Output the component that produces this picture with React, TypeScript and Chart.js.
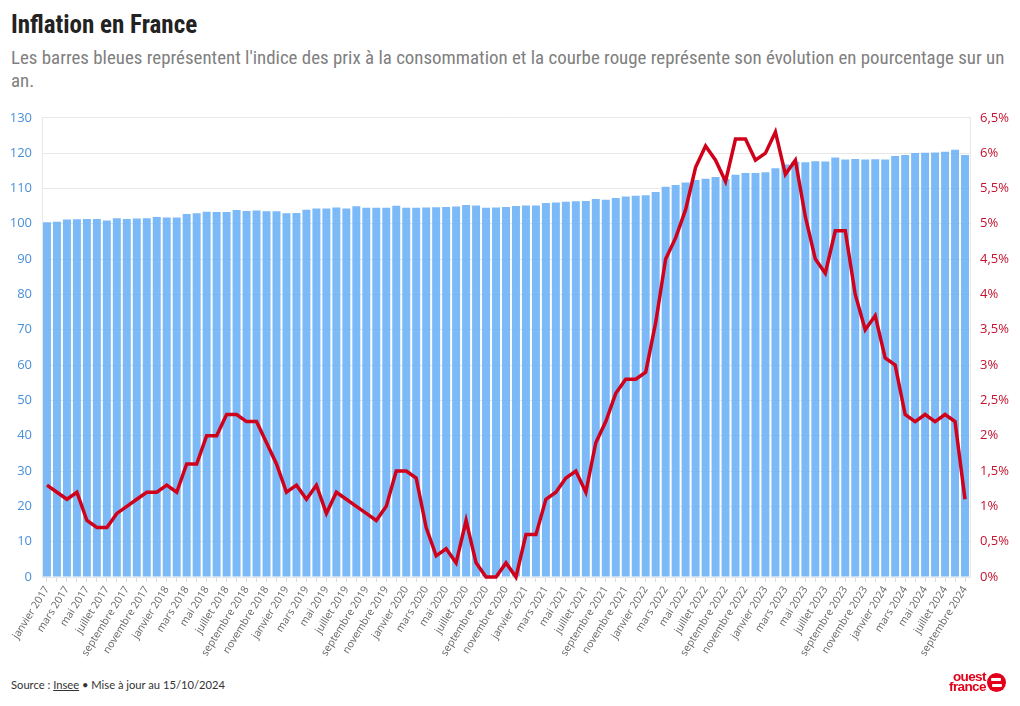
import React, { useEffect, useRef } from "react";
import { Chart, registerables } from "chart.js";

Chart.register(...registerables);

const MONTHS = ["janvier", "février", "mars", "avril", "mai", "juin", "juillet", "août", "septembre", "octobre", "novembre", "décembre"];
const YEARS = [2017, 2018, 2019, 2020, 2021, 2022, 2023, 2024];

const categories: string[] = [];
for (const y of YEARS) {
  for (const m of MONTHS) {
    categories.push(`${m} ${y}`);
  }
}
const labels = categories.slice(0, 93);

// Indice des prix à la consommation (base 2015 = 100)
const cpi2017 = [100.41, 100.59, 101.22, 101.31, 101.34, 101.37, 100.96, 101.53, 101.33, 101.47, 101.58, 101.89];
const cpi2018 = [101.76, 101.79, 102.79, 102.98, 103.4, 103.35, 103.32, 103.87, 103.6, 103.74, 103.52, 103.51];
const cpi2019 = [102.96, 103.06, 103.95, 104.33, 104.35, 104.61, 104.35, 104.95, 104.54, 104.57, 104.53, 105.1];
const cpi2020 = [104.53, 104.56, 104.61, 104.7, 104.74, 104.86, 105.29, 105.14, 104.55, 104.59, 104.76, 105.02];
const cpi2021 = [105.2, 105.2, 105.87, 106.0, 106.26, 106.36, 106.42, 107.04, 106.79, 107.26, 107.72, 107.96];
const cpi2022 = [108.1, 108.97, 110.45, 110.97, 111.65, 112.36, 112.71, 113.26, 112.68, 113.9, 114.35, 114.4];
const cpi2023 = [114.6, 115.75, 116.78, 117.53, 117.42, 117.67, 117.6, 118.78, 118.22, 118.36, 118.16, 118.28];
const cpi2024 = [118.23, 119.2, 119.46, 120.07, 120.13, 120.19, 120.38, 120.99, 119.5];

// Évolution sur un an (%)
const inf2017 = [1.3, 1.2, 1.1, 1.2, 0.8, 0.7, 0.7, 0.9, 1.0, 1.1, 1.2, 1.2];
const inf2018 = [1.3, 1.2, 1.6, 1.6, 2.0, 2.0, 2.3, 2.3, 2.2, 2.2, 1.9, 1.6];
const inf2019 = [1.2, 1.3, 1.1, 1.3, 0.9, 1.2, 1.1, 1.0, 0.9, 0.8, 1.0, 1.5];
const inf2020 = [1.5, 1.4, 0.7, 0.3, 0.4, 0.2, 0.8, 0.2, 0.0, 0.0, 0.2, 0.0];
const inf2021 = [0.6, 0.6, 1.1, 1.2, 1.4, 1.5, 1.2, 1.9, 2.2, 2.6, 2.8, 2.8];
const inf2022 = [2.9, 3.6, 4.5, 4.8, 5.2, 5.8, 6.1, 5.9, 5.6, 6.2, 6.2, 5.9];
const inf2023 = [6.0, 6.3, 5.7, 5.9, 5.1, 4.5, 4.3, 4.9, 4.9, 4.0, 3.5, 3.7];
const inf2024 = [3.1, 3.0, 2.3, 2.2, 2.3, 2.2, 2.3, 2.2, 1.1];

const cpi = [...cpi2017, ...cpi2018, ...cpi2019, ...cpi2020, ...cpi2021, ...cpi2022, ...cpi2023, ...cpi2024];
const inflation = [...inf2017, ...inf2018, ...inf2019, ...inf2020, ...inf2021, ...inf2022, ...inf2023, ...inf2024];

const BLUE_TICK = "#4a90d9";
const RED = "#d0021b";
const RED_TICK = "#c4122f";
const GRID = "#e8e8e8";

export default function App() {
  const ref = useRef<HTMLCanvasElement | null>(null);

  useEffect(() => {
    if (!ref.current) return;
    const chart = new Chart(ref.current, {
      type: "bar",
      data: {
        labels,
        datasets: [
          {
            type: "line",
            label: "Évolution sur un an",
            data: inflation,
            yAxisID: "y1",
            borderColor: RED,
            borderWidth: 3.5,
            pointRadius: 0,
            tension: 0,
            order: 0,
            borderJoinStyle: "miter",
            clip: 6,
          } as any,
          {
            type: "bar",
            label: "Indice des prix",
            data: cpi,
            yAxisID: "y",
            backgroundColor: "rgba(110,178,246,0.9)",
            barPercentage: 0.8,
            categoryPercentage: 1,
            order: 1,
          },
        ],
      },
      options: {
        responsive: false,
        animation: false,
        devicePixelRatio: 1,
        layout: { autoPadding: false, padding: { top: 15, left: 0, right: 0, bottom: 0 } },
        plugins: { legend: { display: false }, tooltip: { enabled: false } },
        scales: {
          x: {
            grid: { display: true, drawOnChartArea: false, drawTicks: true, tickLength: 5, color: "#dcdcdc", offset: false },
            border: { display: true, color: GRID },
            ticks: {
              autoSkip: false,
              maxRotation: 58,
              minRotation: 58,
              color: "#666",
              padding: 2,
              font: { family: "'Open Sans', sans-serif", size: 10.5 },
              callback: (_v: any, i: number) => (i % 2 === 0 ? labels[i] : ""),
            },
            afterFit: (s: any) => {
              s.height = 93;
            },
          },
          y: {
            position: "left",
            min: 0,
            max: 130,
            ticks: {
              stepSize: 10,
              color: BLUE_TICK,
              padding: 10,
              font: { family: "'Open Sans', sans-serif", size: 13 },
            },
            grid: { color: GRID, drawTicks: false },
            border: { display: true, color: GRID },
            afterFit: (s: any) => {
              s.width = 42;
            },
          },
          y1: {
            position: "right",
            min: 0,
            max: 6.5,
            ticks: {
              stepSize: 0.5,
              color: RED_TICK,
              padding: 10,
              font: { family: "'Open Sans', sans-serif", size: 13 },
              callback: (v: any) => `${String(Math.round(Number(v) * 10) / 10).replace(".", ",")}%`,
            },
            grid: { display: false, drawTicks: false },
            border: { display: true, color: GRID },
            afterFit: (s: any) => {
              s.width = 50;
            },
          },
        },
      },
    });
    return () => chart.destroy();
  }, []);

  return (
    <div style={{ position: "absolute", left: 0, top: 0, width: 1020, height: 706, background: "#fff", overflow: "hidden" }}>
      <div
        style={{
          position: "absolute",
          left: 11,
          top: 9,
          fontFamily: "'Roboto Condensed', 'Liberation Sans Narrow', 'DejaVu Sans Condensed', sans-serif",
          fontWeight: 700,
          fontSize: 25,
          color: "#222",
          lineHeight: "32px",
        }}
      >
        Inflation en France
      </div>
      <div
        style={{
          position: "absolute",
          left: 11,
          top: 46,
          width: 1005,
          fontFamily: "'Roboto Condensed', 'Liberation Sans Narrow', 'DejaVu Sans Condensed', sans-serif",
          fontSize: 18.9,
          color: "#808080",
          lineHeight: "23px",
          whiteSpace: "nowrap",
        }}
      >
        Les barres bleues représentent l'indice des prix à la consommation et la courbe rouge représente son évolution en pourcentage sur un
        <br />
        an.
      </div>
      <canvas ref={ref} width={1020} height={570} style={{ position: "absolute", left: 0, top: 100, width: 1020, height: 570 }} />
      <div
        style={{
          position: "absolute",
          left: 11,
          top: 678,
          fontFamily: "'Source Sans Pro', 'Lato', sans-serif",
          fontSize: 11.2,
          color: "#333",
        }}
      >
        Source : <span style={{ textDecoration: "underline" }}>Insee</span> • Mise à jour au 15/10/2024
      </div>
      <div style={{ position: "absolute", left: 949, top: 672, display: "flex", alignItems: "center" }}>
        <div
          style={{
            fontFamily: "'Liberation Sans Narrow', 'Liberation Sans', sans-serif",
            fontWeight: 700,
            fontSize: 13.5,
            lineHeight: "10px",
            color: "#e2001a",
            textAlign: "right",
            letterSpacing: -0.6,
          }}
        >
          ouest
          <br />
          france
        </div>
        <div
          style={{
            width: 19,
            height: 19,
            borderRadius: 10,
            background: "#e2001a",
            marginLeft: 1,
            position: "relative",
          }}
        >
          <div style={{ position: "absolute", left: 4, top: 5, width: 10, height: 3, background: "#fff", borderRadius: 1 }} />
          <div style={{ position: "absolute", left: 5, top: 11, width: 10, height: 3, background: "#fff", borderRadius: 1 }} />
        </div>
      </div>
    </div>
  );
}
